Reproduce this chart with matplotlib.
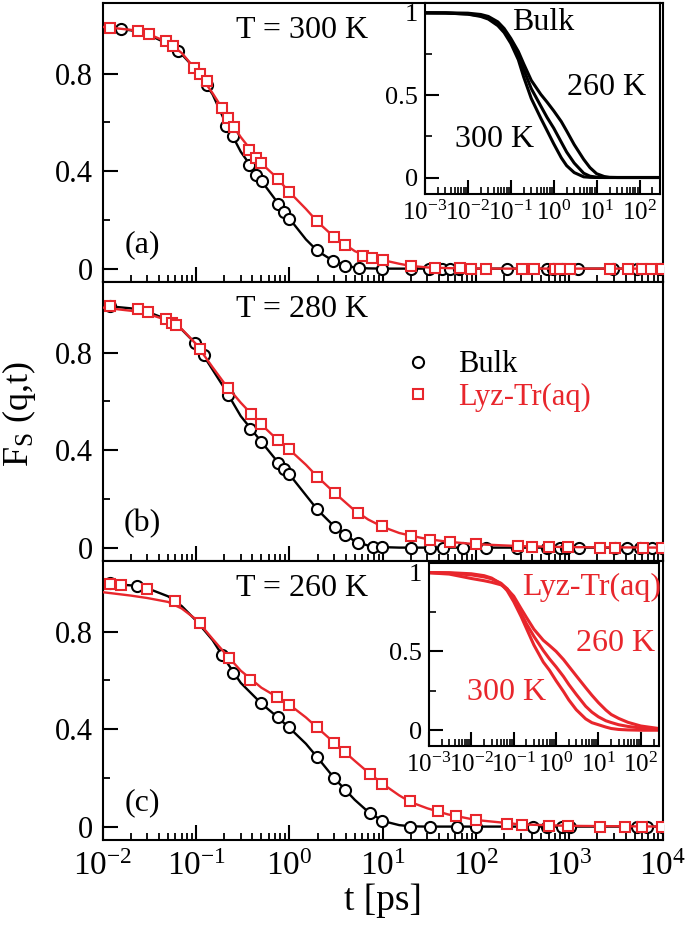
import matplotlib
matplotlib.use("Agg")
import matplotlib.pyplot as plt
import matplotlib.ticker as ticker
import numpy as np

plt.rcParams['font.family'] = ['Liberation Serif', 'DejaVu Serif']
plt.rcParams['mathtext.fontset'] = 'custom'
plt.rcParams['mathtext.rm'] = 'Liberation Serif'
plt.rcParams['mathtext.it'] = 'Liberation Serif:italic'
plt.rcParams['axes.linewidth'] = 1.5

RED = '#e8262c'

# ---- marker data ----
bulk300_t = [0.0158, 0.064, 0.129, 0.21, 0.25, 0.37, 0.44, 0.51, 0.76, 0.88, 0.99,
             1.95, 2.94, 3.93, 5.5, 9.8, 19.9, 31, 43, 53, 65, 212, 570, 672, 826,
             1245, 2950, 5250, 9330]
bulk300_v = [0.985, 0.893, 0.752, 0.585, 0.544, 0.425, 0.384, 0.359, 0.267, 0.232, 0.204,
             0.075, 0.030, 0.010, 0.003, 0, 0, 0, 0, 0, 0, 0, 0, 0, 0,
             0, 0, 0, 0]
lyz300_t = [0.0119, 0.024, 0.031, 0.047, 0.056, 0.094, 0.111, 0.129, 0.19, 0.22, 0.254,
            0.37, 0.44, 0.50, 0.76, 0.99, 1.95, 2.99, 3.93, 6.2, 7.7, 9.96, 19.9, 36,
            67, 89, 127, 307, 417, 700, 794, 1012, 2716, 4270, 5940, 7580, 9770]
lyz300_v = [0.989, 0.975, 0.964, 0.934, 0.914, 0.825, 0.797, 0.771, 0.658, 0.619, 0.581,
            0.486, 0.455, 0.434, 0.366, 0.314, 0.195, 0.130, 0.099, 0.053, 0.044, 0.037, 0.010, 0.003,
            0.001, 0, 0, 0, 0, 0, 0, 0, 0, 0, 0, 0, 0]

bulk280_t = [0.0119, 0.097, 0.121, 0.22, 0.376, 0.50, 0.757, 0.877, 0.99, 1.98, 3.06,
             3.92, 5.44, 7.9, 9.9, 19.9, 32, 44, 72, 127, 272, 570, 791, 916, 1259,
             3076, 4102, 5702, 7603, 9727]
bulk280_v = [0.99, 0.841, 0.791, 0.625, 0.486, 0.434, 0.349, 0.321, 0.301, 0.157, 0.085,
             0.052, 0.018, 0.004, 0.002, 0, 0, 0, 0, 0, 0, 0, 0, 0, 0,
             0, 0, 0, 0, 0]
lyz280_t = [0.0119, 0.0239, 0.0301, 0.0473, 0.0544, 0.0605, 0.109, 0.22, 0.382, 0.489, 0.757,
            0.99, 1.98, 3.06, 5.44, 9.9, 19.9, 32, 52, 99, 282, 394, 608, 971, 2123,
            3076, 6180, 9727]
lyz280_v = [0.992, 0.978, 0.969, 0.937, 0.923, 0.912, 0.814, 0.654, 0.547, 0.509, 0.44,
            0.404, 0.29, 0.226, 0.144, 0.088, 0.049, 0.033, 0.022, 0.015, 0.006, 0.004, 0.002, 0.001, 0,
            0, 0, 0]

bulk260_t = [0.0119, 0.0233, 0.19, 0.249, 0.493, 0.757, 0.99, 1.95, 2.99, 3.92, 7.26,
             9.9, 19.5, 32, 62, 100, 408, 569, 826, 1012, 5250, 6760, 9730]
bulk260_v = [1.0, 0.986, 0.703, 0.630, 0.506, 0.448, 0.407, 0.287, 0.2, 0.149, 0.055,
             0.023, 0, 0, 0, 0, 0, 0, 0, 0, 0, 0, 0]
lyz260_t = [0.0119, 0.0158, 0.0299, 0.059, 0.111, 0.226, 0.376, 0.743, 0.99, 1.95, 2.99,
            3.92, 7.26, 9.9, 19.5, 39, 61, 99, 212, 307, 608, 970, 2120, 3940, 5940, 9730]
lyz260_v = [0.997, 0.993, 0.975, 0.924, 0.834, 0.69, 0.60, 0.531, 0.50, 0.407, 0.345,
            0.308, 0.217, 0.175, 0.103, 0.062, 0.045, 0.029, 0.012, 0.008, 0.004, 0.004, 0, 0, 0, 0]

# ---- fit curves (solid lines, also shown in the insets) ----
t_fit = [1e-3, 3e-3, 0.01, 0.02, 0.03, 0.05, 0.07, 0.1, 0.15, 0.2, 0.3, 0.5, 0.7, 1,
         1.5, 2, 3, 5, 7, 10, 15, 20, 30, 50, 100, 300, 1e3, 1e4]
bulk300_fit = [1.0, 0.999, 0.992, 0.978, 0.962, 0.922, 0.88, 0.815, 0.715, 0.61, 0.48, 0.36, 0.285, 0.205,
               0.12, 0.072, 0.03, 0.004, 0.001, 0, 0, 0, 0, 0, 0, 0, 0, 0]
lyz300_fit = [1.0, 0.999, 0.992, 0.98, 0.965, 0.928, 0.885, 0.815, 0.72, 0.645, 0.54, 0.432, 0.38, 0.314,
              0.245, 0.192, 0.13, 0.072, 0.048, 0.035, 0.02, 0.011, 0.005, 0.002, 0, 0, 0, 0]
bulk280_fit = [1.0, 0.999, 0.993, 0.982, 0.968, 0.935, 0.895, 0.835, 0.73, 0.655, 0.54, 0.434, 0.365, 0.30,
               0.215, 0.155, 0.088, 0.026, 0.008, 0.002, 0, 0, 0, 0, 0, 0, 0, 0]
lyz280_fit = [1.0, 0.996, 0.985, 0.972, 0.96, 0.932, 0.897, 0.835, 0.74, 0.675, 0.595, 0.505, 0.452, 0.402,
              0.34, 0.29, 0.227, 0.152, 0.115, 0.085, 0.06, 0.049, 0.035, 0.024, 0.014, 0.006, 0.002, 0]
bulk260_fit = [1.0, 1.0, 0.998, 0.99, 0.978, 0.945, 0.905, 0.845, 0.765, 0.69, 0.59, 0.505, 0.458, 0.405,
               0.34, 0.283, 0.2, 0.11, 0.06, 0.023, 0.006, 0.001, 0, 0, 0, 0, 0, 0]
lyz260_fit = [0.998, 0.99, 0.962, 0.948, 0.938, 0.922, 0.895, 0.85, 0.77, 0.715, 0.64, 0.57, 0.537, 0.50,
              0.448, 0.405, 0.345, 0.27, 0.222, 0.175, 0.128, 0.10, 0.075, 0.05, 0.027, 0.009, 0.003, 0]

temps = ['300', '280', '260']
letters = ['(a)', '(b)', '(c)']
main_xticks = [1e-2, 1e-1, 1e0, 1e1, 1e2, 1e3, 1e4]
inset_xticks = [1e-3, 1e-2, 1e-1, 1e0, 1e1, 1e2]
panels = [
    (bulk300_t, bulk300_v, bulk300_fit, lyz300_t, lyz300_v, lyz300_fit),
    (bulk280_t, bulk280_v, bulk280_fit, lyz280_t, lyz280_v, lyz280_fit),
    (bulk260_t, bulk260_v, bulk260_fit, lyz260_t, lyz260_v, lyz260_fit),
]

fig = plt.figure(figsize=(6.86, 9.25), dpi=100)

left, width, height = 0.150, 0.816, 0.3016
bottoms = [0.6951, 0.3935, 0.0919]


def yfmt(v, pos):
    return '0' if abs(v) < 1e-9 else '%g' % v


for i, (bt, bv, bf, lt, lv, lf) in enumerate(panels):
    ax = fig.add_axes([left, bottoms[i], width, height])
    ax.plot(t_fit, bf, color='black', lw=1.7, zorder=2)
    hb, = ax.plot(bt, bv, ls='none', marker='o', ms=8, mew=1.5, mec='black',
                  mfc='white', zorder=3, label='Bulk')
    ax.plot(t_fit, lf, color=RED, lw=1.7, zorder=4)
    hl, = ax.plot(lt, lv, ls='none', marker='s', ms=7, mew=1.5, mec=RED,
                  mfc='white', zorder=5, label='Lyz-Tr(aq)')
    ax.set_xscale('log')
    ax.set_xlim(1e-2, 1e4)
    ax.set_ylim(-0.055, 1.09)
    ax.xaxis.set_major_locator(ticker.FixedLocator(main_xticks))
    ax.xaxis.set_major_formatter(ticker.LogFormatterMathtext())
    ax.xaxis.set_minor_locator(ticker.LogLocator(base=10, subs=np.arange(2, 10), numticks=20))
    ax.xaxis.set_minor_formatter(ticker.NullFormatter())
    ax.yaxis.set_major_locator(ticker.MultipleLocator(0.4))
    ax.yaxis.set_minor_locator(ticker.MultipleLocator(0.2))
    ax.yaxis.set_major_formatter(ticker.FuncFormatter(yfmt))
    ax.tick_params(which='major', direction='in', length=11, width=1.5, labelsize=22, pad=7,
                   top=False, right=False)
    ax.tick_params(which='minor', direction='in', length=5, width=1.3, top=False, right=False)
    ax.tick_params(axis='x', which='major', pad=8, labelsize=24)
    if i < 2:
        ax.tick_params(labelbottom=False)
    ax.text(0.355, 0.903, 'T = %s K' % temps[i], transform=ax.transAxes,
            ha='center', va='center', fontsize=23)
    ax.text(0.070, 0.135, letters[i], transform=ax.transAxes,
            ha='center', va='center', fontsize=23)
    if i == 1:
        leg = ax.legend(handles=[hb, hl], loc='upper left', bbox_to_anchor=(0.536, 0.755),
                        frameon=False, fontsize=22, handlelength=1.0, handletextpad=0.8,
                        labelspacing=0.1, borderpad=0, borderaxespad=0)
        leg.get_texts()[1].set_color(RED)

fig.text(0.028, 0.552, r'F$_\mathrm{S}$ (q,t)', rotation=90, ha='center', va='center', fontsize=26)
fig.text(0.558, 0.026, 't [ps]', ha='center', va='center', fontsize=27)


def inset(rect, curves, color, xmax, labels):
    ia = fig.add_axes(rect)
    ia.set_facecolor('white')
    for c in curves:
        ia.plot(t_fit, c, color=color, lw=2.2)
    ia.set_xscale('log')
    ia.set_xlim(1e-3, xmax)
    ia.set_ylim(-0.1, 1.06)
    ia.xaxis.set_major_locator(ticker.FixedLocator(inset_xticks))
    ia.xaxis.set_major_formatter(ticker.LogFormatterMathtext())
    ia.xaxis.set_minor_locator(ticker.LogLocator(base=10, subs=np.arange(2, 10), numticks=20))
    ia.xaxis.set_minor_formatter(ticker.NullFormatter())
    ia.yaxis.set_major_locator(ticker.FixedLocator([0, 0.5, 1]))
    ia.yaxis.set_minor_locator(ticker.FixedLocator([0.25, 0.75]))
    ia.yaxis.set_major_formatter(ticker.FuncFormatter(yfmt))
    ia.tick_params(which='major', direction='in', length=10, width=1.5, labelsize=19, pad=5,
                   top=False, right=False)
    ia.tick_params(axis='x', which='major', labelsize=18)
    ia.tick_params(which='minor', direction='in', length=5, width=1.2, top=False, right=False)
    for (x, y, s) in labels:
        ia.text(x, y, s, transform=ia.transAxes, ha='center', va='center',
                fontsize=23, color=color)
    return ia


inset([0.6195, 0.7903, 0.3426, 0.2065], [bulk300_fit, bulk280_fit, bulk260_fit], 'black', 300,
      [(0.502, 0.90, 'Bulk'), (0.774, 0.56, '260 K'), (0.298, 0.283, '300 K')])
inset([0.6254, 0.1935, 0.3353, 0.1978], [lyz300_fit, lyz280_fit, lyz260_fit], RED, 270,
      [(0.709, 0.869, 'Lyz-Tr(aq)'), (0.809, 0.563, '260 K'), (0.339, 0.29, '300 K')])

fig.savefig('out.png', dpi=100)
